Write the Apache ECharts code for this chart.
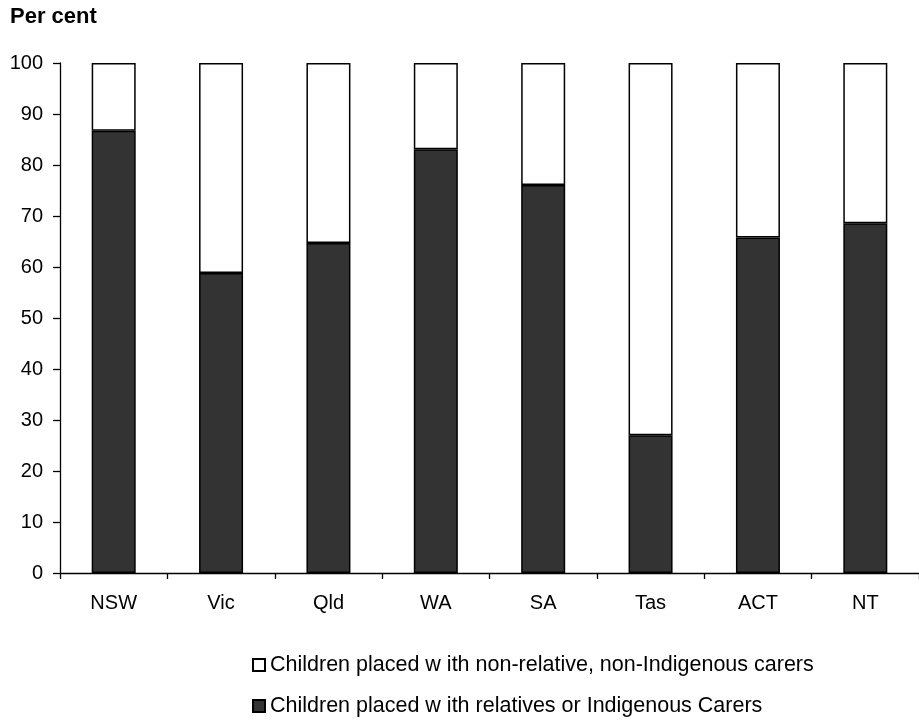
<!DOCTYPE html>
<html>
<head>
<meta charset="utf-8">
<script src="https://cdn.jsdelivr.net/npm/echarts@6/dist/echarts.min.js"></script>
<style>
html,body{margin:0;padding:0;background:#fff;}
#chart{width:919px;height:720px;}
</style>
</head>
<body>
<div id="chart"></div>
<script>
var categories = ['NSW', 'Vic', 'Qld', 'WA', 'SA', 'Tas', 'ACT', 'NT'];
var relatives = [86.7, 58.8, 64.7, 83.1, 76.1, 27.0, 65.8, 68.6];
var nonRelative = [13.3, 41.2, 35.3, 16.9, 23.9, 73.0, 34.2, 31.4];
var yTicks = [0, 10, 20, 30, 40, 50, 60, 70, 80, 90, 100];
var nameNonRel = 'Children placed w ith non-relative, non-Indigenous carers';
var nameRel = 'Children placed w ith relatives or Indigenous Carers';

var FONT = '"Liberation Sans", Arial, sans-serif';
var legendBase = {
  orient: 'vertical',
  left: 252,
  itemWidth: 12, itemHeight: 12,
  itemTextGap: 10,
  icon: 'rect',
  padding: 0,
  textStyle: {fontFamily: FONT, fontSize: 21.5, color: '#000'}
};
var chart = echarts.init(document.getElementById('chart'), null, {renderer: 'canvas'});
chart.setOption({
  animation: false,
  backgroundColor: '#ffffff',
  textStyle: {fontFamily: FONT, color: '#000'},
  title: {
    text: 'Per cent',
    left: 10, top: 6,
    padding: 0,
    textStyle: {fontFamily: FONT, fontSize: 22, fontWeight: 'bold', color: '#000'}
  },
  legend: [
    Object.assign({}, legendBase, {top: 654, data: [nameNonRel]}),
    Object.assign({}, legendBase, {top: 695, data: [nameRel]})
  ],
  grid: {left: 60, top: 63, width: 863, height: 510, containLabel: false},
  xAxis: {
    type: 'category',
    data: categories,
    boundaryGap: true,
    axisLine: {lineStyle: {color: '#000', width: 1.3}},
    axisTick: {show: true, interval: 0, length: 6, lineStyle: {color: '#000', width: 1.3}},
    axisLabel: {margin: 20, fontSize: 20, color: '#000', fontFamily: FONT, interval: 0},
    splitLine: {show: false}
  },
  yAxis: {
    type: 'value',
    min: yTicks[0], max: yTicks[yTicks.length - 1], interval: 10,
    axisLine: {show: true, lineStyle: {color: '#000', width: 1.3}},
    axisTick: {show: true, length: 7, lineStyle: {color: '#000', width: 1.3}},
    axisLabel: {margin: 17, fontSize: 20, color: '#000', fontFamily: FONT},
    splitLine: {show: false}
  },
  series: [
    {
      name: nameRel,
      type: 'bar',
      stack: 'total',
      barWidth: 44,
      data: relatives,
      itemStyle: {color: '#333333', borderColor: '#000', borderWidth: 1.5}
    },
    {
      name: nameNonRel,
      type: 'bar',
      stack: 'total',
      barWidth: 44,
      data: nonRelative,
      itemStyle: {color: '#ffffff', borderColor: '#000', borderWidth: 1.5}
    }
  ]
});
</script>
</body>
</html>
